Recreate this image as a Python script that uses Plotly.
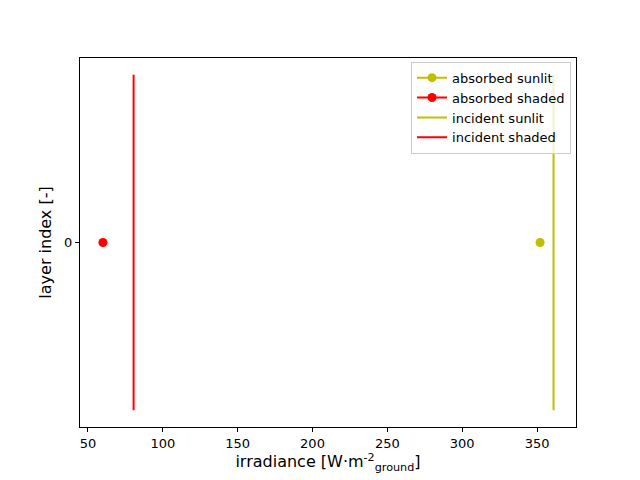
import plotly.graph_objects as go

layer = [0]
absorbed_sunlit = [352]
absorbed_shaded = [60]
incident_sunlit = [361, 361]
incident_shaded = [80.5, 80.5]
incident_y = [-0.5, 0.5]

yel = "#bfbf00"
red = "#ff0000"

fig = go.Figure()
fig.add_trace(go.Scatter(x=absorbed_sunlit, y=layer, mode="lines+markers", name="absorbed sunlit",
                         line=dict(color=yel, width=2), marker=dict(color=yel, size=9)))
fig.add_trace(go.Scatter(x=absorbed_shaded, y=layer, mode="lines+markers", name="absorbed shaded",
                         line=dict(color=red, width=2), marker=dict(color=red, size=9)))
fig.add_trace(go.Scatter(x=incident_sunlit, y=incident_y, mode="lines", name="incident sunlit",
                         line=dict(color=yel, width=2)))
fig.add_trace(go.Scatter(x=incident_shaded, y=incident_y, mode="lines", name="incident shaded",
                         line=dict(color=red, width=2)))

axis = dict(showline=True, linecolor="black", linewidth=1, mirror=True, ticks="outside",
            ticklen=4, tickcolor="black", showgrid=False, zeroline=False, automargin=False)
fig.update_layout(
    width=640, height=480, template="none",
    font=dict(family="DejaVu Sans", size=13, color="black"),
    margin=dict(l=72, r=72, t=50, b=61),
    plot_bgcolor="white", paper_bgcolor="white",
    xaxis=dict(axis, range=[44.7, 376], tickvals=[50, 100, 150, 200, 250, 300, 350],
               title=dict(text="irradiance [W·m<sup>-2</sup><sub>ground</sub>]", standoff=4)),
    yaxis=dict(axis, range=[-0.55, 0.55], tickvals=[0], title=dict(text="layer index [-]", standoff=8)),
    legend=dict(x=0.99, y=0.99, xanchor="right", yanchor="top", bgcolor="rgba(255,255,255,0.8)",
                bordercolor="#cccccc", borderwidth=1, font=dict(size=13), tracegroupgap=0),
)
fig.write_html("out.html")
